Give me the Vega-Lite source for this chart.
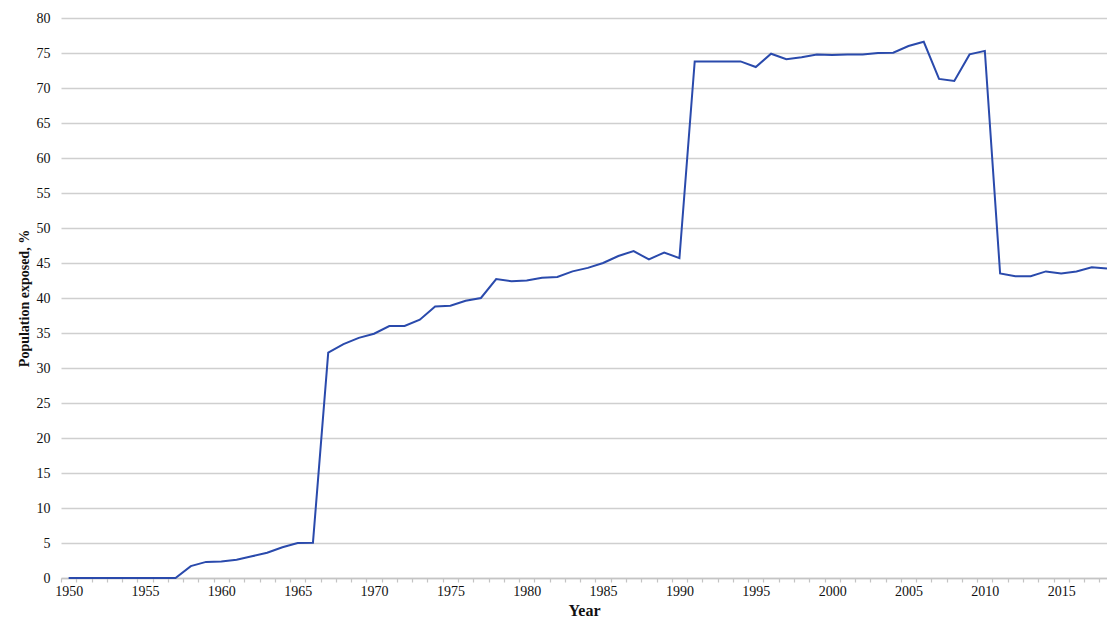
{
  "$schema": "https://vega.github.io/schema/vega-lite/v6.json",
  "width": 1046,
  "height": 560,
  "autosize": {"type": "none"},
  "padding": {"left": 61, "top": 18, "right": 0, "bottom": 42},
  "background": "white",
  "config": {
    "view": {"stroke": null},
    "font": "Liberation Serif",
    "axis": {"labelFont": "Liberation Serif", "titleFont": "Liberation Serif"}
  },
  "data": {
    "values": [
      {"year": 1950, "pct": 0}, {"year": 1951, "pct": 0}, {"year": 1952, "pct": 0}, {"year": 1953, "pct": 0},
      {"year": 1954, "pct": 0}, {"year": 1955, "pct": 0}, {"year": 1956, "pct": 0}, {"year": 1957, "pct": 0},
      {"year": 1958, "pct": 1.7}, {"year": 1959, "pct": 2.3}, {"year": 1960, "pct": 2.35}, {"year": 1961, "pct": 2.6},
      {"year": 1962, "pct": 3.1}, {"year": 1963, "pct": 3.6}, {"year": 1964, "pct": 4.4}, {"year": 1965, "pct": 5.0},
      {"year": 1966, "pct": 5.05}, {"year": 1967, "pct": 32.2}, {"year": 1968, "pct": 33.4}, {"year": 1969, "pct": 34.3},
      {"year": 1970, "pct": 34.9}, {"year": 1971, "pct": 36.0}, {"year": 1972, "pct": 36.0}, {"year": 1973, "pct": 36.9},
      {"year": 1974, "pct": 38.8}, {"year": 1975, "pct": 38.9}, {"year": 1976, "pct": 39.6}, {"year": 1977, "pct": 40.0},
      {"year": 1978, "pct": 42.7}, {"year": 1979, "pct": 42.4}, {"year": 1980, "pct": 42.5}, {"year": 1981, "pct": 42.9},
      {"year": 1982, "pct": 43.0}, {"year": 1983, "pct": 43.8}, {"year": 1984, "pct": 44.3}, {"year": 1985, "pct": 45.0},
      {"year": 1986, "pct": 46.0}, {"year": 1987, "pct": 46.7}, {"year": 1988, "pct": 45.5}, {"year": 1989, "pct": 46.5},
      {"year": 1990, "pct": 45.7}, {"year": 1991, "pct": 73.8}, {"year": 1992, "pct": 73.8}, {"year": 1993, "pct": 73.8},
      {"year": 1994, "pct": 73.8}, {"year": 1995, "pct": 73.0}, {"year": 1996, "pct": 74.9}, {"year": 1997, "pct": 74.1},
      {"year": 1998, "pct": 74.4}, {"year": 1999, "pct": 74.8}, {"year": 2000, "pct": 74.7}, {"year": 2001, "pct": 74.8},
      {"year": 2002, "pct": 74.8}, {"year": 2003, "pct": 75.0}, {"year": 2004, "pct": 75.05}, {"year": 2005, "pct": 76.0},
      {"year": 2006, "pct": 76.6}, {"year": 2007, "pct": 71.3}, {"year": 2008, "pct": 71.0}, {"year": 2009, "pct": 74.8},
      {"year": 2010, "pct": 75.3}, {"year": 2011, "pct": 43.5}, {"year": 2012, "pct": 43.1}, {"year": 2013, "pct": 43.1},
      {"year": 2014, "pct": 43.8}, {"year": 2015, "pct": 43.5}, {"year": 2016, "pct": 43.8}, {"year": 2017, "pct": 44.4},
      {"year": 2018, "pct": 44.2}
    ]
  },
  "resolve": {"axis": {"x": "independent"}},
  "encoding": {
    "y": {
      "field": "pct", "type": "quantitative",
      "scale": {"domain": [0, 80], "nice": false},
      "axis": {
        "values": [0,5,10,15,20,25,30,35,40,45,50,55,60,65,70,75,80],
        "format": "d",
        "title": "Population exposed, %",
        "titleFont": "Liberation Serif", "labelFont": "Times New Roman",
        "titleFontSize": 14, "titleFontWeight": "bold", "titleColor": "#111", "titlePadding": 5,
        "labelFontSize": 14, "labelColor": "#111", "labelPadding": 11,
        "ticks": false, "domain": false,
        "grid": true, "gridColor": "#cfcfcf", "gridWidth": 1.5
      }
    }
  },
  "layer": [
    {
      "mark": {"type": "line", "stroke": "#2a4aac", "strokeWidth": 2, "strokeOpacity": 0},
      "encoding": {
        "x": {
          "field": "year", "type": "quantitative",
          "scale": {"domain": [1949.5, 2018.0], "nice": false, "zero": false},
          "axis": {
            "orient": "bottom",
            "values": [1949.5,1950.5,1951.5,1952.5,1953.5,1954.5,1955.5,1956.5,1957.5,1958.5,1959.5,1960.5,1961.5,1962.5,1963.5,1964.5,1965.5,1966.5,1967.5,1968.5,1969.5,1970.5,1971.5,1972.5,1973.5,1974.5,1975.5,1976.5,1977.5,1978.5,1979.5,1980.5,1981.5,1982.5,1983.5,1984.5,1985.5,1986.5,1987.5,1988.5,1989.5,1990.5,1991.5,1992.5,1993.5,1994.5,1995.5,1996.5,1997.5,1998.5,1999.5,2000.5,2001.5,2002.5,2003.5,2004.5,2005.5,2006.5,2007.5,2008.5,2009.5,2010.5,2011.5,2012.5,2013.5,2014.5,2015.5,2016.5,2017.5],
            "labels": false, "domain": false, "grid": false, "title": null,
            "ticks": true, "tickColor": "#c4c4c4", "tickSize": 4, "tickWidth": 1.2
          }
        }
      }
    },
    {
      "mark": {"type": "line", "stroke": "#2a4aac", "strokeWidth": 2},
      "encoding": {
        "x": {
          "field": "year", "type": "quantitative",
          "scale": {"domain": [1949.5, 2018.0], "nice": false, "zero": false},
          "axis": {
            "orient": "bottom",
            "values": [1950,1955,1960,1965,1970,1975,1980,1985,1990,1995,2000,2005,2010,2015],
            "format": "d",
            "title": "Year",
            "titleFont": "Liberation Serif", "labelFont": "Liberation Serif",
            "titleFontSize": 16, "titleFontWeight": "bold", "titleColor": "#111", "titlePadding": 4,
            "labelFontSize": 14, "labelColor": "#111", "labelPadding": 6,
            "ticks": false, "grid": false,
            "domain": true, "domainColor": "#c4c4c4", "domainWidth": 1.5
          }
        }
      }
    }
  ]
}
